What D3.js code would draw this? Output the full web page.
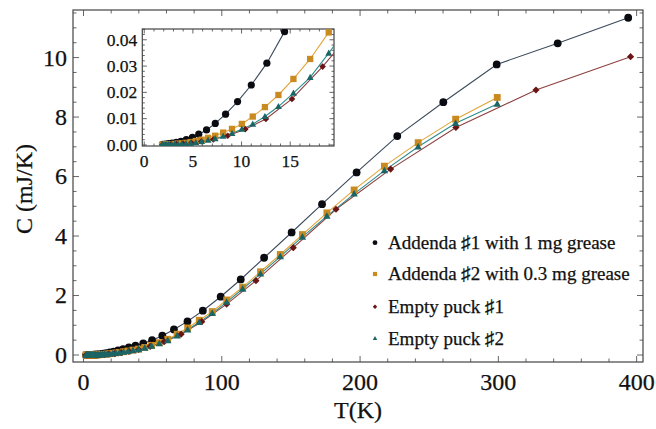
<!DOCTYPE html>
<html>
<head>
<meta charset="utf-8">
<script src="https://cdn.jsdelivr.net/npm/d3@7"></script>
<style>
  html, body { margin: 0; padding: 0; background: #fff; }
  svg { display: block; }
  text { font-family: "Liberation Serif", "Times New Roman", serif; fill: #111; stroke: #111; stroke-width: 0.25px; }
</style>
</head>
<body>
<svg id="chart" width="656" height="429"></svg>
<script>
// ---- data ----
const seriesNames = [
  "Addenda \u266F1 with 1 mg grease",
  "Addenda \u266F2 with 0.3 mg grease",
  "Empty puck \u266F1",
  "Empty puck \u266F2"
];

const addenda1T = [1.9, 2.18, 2.5, 2.87, 3.29, 3.77, 4.32, 4.95, 5.6, 6.4, 7.3, 8.36, 9.59, 11.0, 12.6, 14.42,
  16.5, 19.0, 21.8, 25.0, 28.6, 32.8, 37.6, 43.2, 49.6, 57.0, 65.4, 75.2, 86.3, 99.2, 113.7, 130.6, 150.5,
  172.5, 197.5, 226.9, 260.2, 298.8, 342.9, 393.9];
const addenda1C = [0.0002, 0.0003, 0.0005, 0.0007, 0.0010, 0.0014, 0.0020, 0.0029, 0.0041, 0.0057, 0.0082,
  0.0117, 0.0165, 0.0228, 0.0311, 0.0431, 0.060, 0.084, 0.115, 0.155, 0.20, 0.255, 0.315, 0.39, 0.50, 0.65,
  0.86, 1.13, 1.49, 1.96, 2.54, 3.27, 4.12, 5.07, 6.14, 7.36, 8.50, 9.77, 10.48, 11.34];

const addenda2T = [1.83, 2.04, 2.27, 2.52, 2.80, 3.12, 3.47, 3.86, 4.29, 4.77, 5.30, 5.90, 6.56, 7.29, 8.11,
  9.02, 10.03, 11.15, 12.40, 13.79, 15.33, 17.05, 18.96, 21.1, 23.4, 26.0, 29.0, 32.2, 35.8, 39.8, 44.3,
  49.2, 54.8, 60.9, 67.7, 75.3, 83.7, 93.1, 103.5, 115.1, 128.0, 142.3, 158.3, 176.0, 195.7, 217.6, 242.0,
  269.1, 299.2];
const addenda2C = [0.0001, 0.0001, 0.0002, 0.0002, 0.0003, 0.0004, 0.0005, 0.0006, 0.0008, 0.0011, 0.0015,
  0.0020, 0.0027, 0.0035, 0.0047, 0.0061, 0.0080, 0.0108, 0.0144, 0.0190, 0.0251, 0.0327, 0.0428, 0.055,
  0.070, 0.088, 0.11, 0.135, 0.165, 0.20, 0.255, 0.325, 0.415, 0.53, 0.70, 0.91, 1.17, 1.46, 1.85, 2.28,
  2.80, 3.38, 4.05, 4.78, 5.55, 6.35, 7.14, 7.93, 8.66];

const puck1T = [1.87, 2.26, 2.73, 3.31, 4.0, 4.84, 5.86, 7.09, 8.58, 10.38, 12.5, 15.18, 18.33, 22.5, 27.2,
  32.9, 39.8, 48.2, 58.3, 70.6, 85.5, 103.5, 124.7, 151.7, 182.6, 222.1, 269.3, 327.2, 395.6];
const puck1C = [0.0001, 0.0001, 0.0002, 0.0003, 0.0005, 0.0008, 0.0013, 0.0021, 0.0035, 0.0060, 0.0099,
  0.0175, 0.0298, 0.048, 0.078, 0.12, 0.185, 0.29, 0.45, 0.70, 1.12, 1.71, 2.50, 3.61, 4.90, 6.25, 7.65,
  8.91, 10.03];

const puck2T = addenda2T;
const puck2C = [0.0001, 0.0001, 0.0001, 0.0002, 0.0002, 0.0003, 0.0003, 0.0004, 0.0005, 0.0007, 0.0009,
  0.0013, 0.0018, 0.0024, 0.0033, 0.0044, 0.0060, 0.0079, 0.0108, 0.0146, 0.0197, 0.0257, 0.0349, 0.046,
  0.060, 0.077, 0.098, 0.122, 0.152, 0.188, 0.235, 0.30, 0.385, 0.49, 0.65, 0.85, 1.10, 1.40, 1.78, 2.22,
  2.73, 3.31, 3.97, 4.67, 5.42, 6.20, 7.00, 7.79, 8.44];

const xTicksMain = [0, 100, 200, 300, 400];
const yTicksMain = [0, 2, 4, 6, 8, 10];
const xTicksInset = [0, 5, 10, 15];
const yTicksInset = [0, 0.01, 0.02, 0.03, 0.04];

// ---- styles ----
const styles = [
  { line: "#3b4a5c", fill: "#0b0b12", shape: "circle" },
  { line: "#e2a43a", fill: "#c98a1f", shape: "square" },
  { line: "#8e4040", fill: "#6a1414", shape: "diamond" },
  { line: "#2e8c8c", fill: "#1b6565", shape: "triangle" }
];

const series = [
  { T: addenda1T, C: addenda1C },
  { T: addenda2T, C: addenda2C },
  { T: puck1T, C: puck1C },
  { T: puck2T, C: puck2C }
].map((s, i) => ({ name: seriesNames[i], style: styles[i],
  pts: s.T.map((t, j) => ({ t: t, c: s.C[j] })) }));

const svg = d3.select("#chart");

function marker(g, shape, fill, size) {
  if (shape === "circle") {
    return g.append("circle").attr("r", size * 0.6).attr("fill", fill);
  }
  if (shape === "square") {
    const s = size * 1.05;
    return g.append("rect").attr("x", -s / 2).attr("y", -s / 2).attr("width", s).attr("height", s).attr("fill", fill);
  }
  if (shape === "diamond") {
    const s = size * 0.55;
    return g.append("path").attr("d", `M0,${-s}L${s},0L0,${s}L${-s},0Z`).attr("fill", fill);
  }
  const s = size * 0.6;
  return g.append("path").attr("d", `M0,${-s}L${s * 0.95},${s * 0.7}L${-s * 0.95},${s * 0.7}Z`).attr("fill", fill);
}

function drawPanel(opts) {
  const { x, y, xTicks, yTicks, xMinorStep, yMinorStep, fontSize, majorLen, minorLen, id, msize, xFmt, yFmt, labelPadX, labelPadY } = opts;
  const [x0, x1] = x.range();
  const [y0, y1] = y.range(); // y0 bottom, y1 top
  const g = svg.append("g");

  g.append("clipPath").attr("id", id).append("rect")
    .attr("x", x0).attr("y", y1).attr("width", x1 - x0).attr("height", y0 - y1);

  // ticks
  const xd = x.domain(), yd = y.domain();
  const xMinor = d3.range(Math.ceil(xd[0] / xMinorStep) * xMinorStep, xd[1] + 1e-9, xMinorStep);
  const yMinor = d3.range(Math.ceil(yd[0] / yMinorStep) * yMinorStep, yd[1] + 1e-12, yMinorStep);
  const isMajor = (v, arr, step) => arr.some(m => Math.abs(m - v) < step * 1e-3);
  const tg = g.append("g").attr("stroke", "#555").attr("stroke-width", 0.9);
  xMinor.forEach(v => {
    const L = isMajor(v, xTicks, xMinorStep) ? majorLen : minorLen;
    const px = x(v);
    tg.append("line").attr("x1", px).attr("x2", px).attr("y1", y0).attr("y2", y0 - L);
    tg.append("line").attr("x1", px).attr("x2", px).attr("y1", y1).attr("y2", y1 + L);
  });
  yMinor.forEach(v => {
    const L = isMajor(v, yTicks, yMinorStep) ? majorLen : minorLen;
    const py = y(v);
    tg.append("line").attr("y1", py).attr("y2", py).attr("x1", x0).attr("x2", x0 + L);
    tg.append("line").attr("y1", py).attr("y2", py).attr("x1", x1).attr("x2", x1 - L);
  });

  // frame
  g.append("rect").attr("x", x0).attr("y", y1).attr("width", x1 - x0).attr("height", y0 - y1)
    .attr("fill", "none").attr("stroke", "#444").attr("stroke-width", 1.2);

  // tick labels
  g.selectAll(".xl").data(xTicks).enter().append("text")
    .attr("x", d => x(d)).attr("y", y0 + labelPadX).attr("text-anchor", "middle")
    .attr("font-size", fontSize).text(xFmt);
  g.selectAll(".yl").data(yTicks).enter().append("text")
    .attr("x", x0 - labelPadY).attr("y", d => y(d)).attr("dy", "0.33em").attr("text-anchor", "end")
    .attr("font-size", fontSize).text(yFmt);

  // data
  const dg = g.append("g").attr("clip-path", `url(#${id})`);
  const line = d3.line().x(d => x(d.t)).y(d => y(d.c));
  series.forEach(s => {
    dg.append("path").datum(s.pts).attr("d", line).attr("fill", "none")
      .attr("stroke", s.style.line).attr("stroke-width", 1.1);
  });
  series.forEach(s => {
    s.pts.forEach(p => {
      const mg = dg.append("g").attr("transform", `translate(${x(p.t)},${y(p.c)})`);
      marker(mg, s.style.shape, s.style.fill, msize);
    });
  });
}

// main panel
const xMain = d3.scaleLinear().domain([-7.6, 404.6]).range([73, 643]);
const yMain = d3.scaleLinear().domain([-0.235, 11.6]).range([362, 10]);
drawPanel({ x: xMain, y: yMain, xTicks: xTicksMain, yTicks: yTicksMain, xMinorStep: 20, yMinorStep: 0.5,
  fontSize: 24, majorLen: 6, minorLen: 3.5, id: "clipMain", msize: 6.5,
  xFmt: d => d, yFmt: d => d, labelPadX: 28, labelPadY: 6 });

// inset panel
const xIn = d3.scaleLinear().domain([-0.2, 19.5]).range([142.3, 334]);
const yIn = d3.scaleLinear().domain([-0.0004, 0.0441]).range([146, 29]);
svg.append("rect").attr("x", 142.3).attr("y", 29).attr("width", 191.7).attr("height", 117).attr("fill", "#fff");
drawPanel({ x: xIn, y: yIn, xTicks: xTicksInset, yTicks: yTicksInset, xMinorStep: 1, yMinorStep: 0.002,
  fontSize: 17.5, majorLen: 4.5, minorLen: 2.5, id: "clipInset", msize: 6,
  xFmt: d => d, yFmt: d => d3.format(".2f")(d), labelPadX: 21, labelPadY: 5 });

// axis titles
svg.append("text").attr("x", 358).attr("y", 418).attr("text-anchor", "middle")
  .attr("font-size", 24).text("T(K)");
svg.append("text").attr("transform", "translate(32,189) rotate(-90)").attr("text-anchor", "middle")
  .attr("font-size", 24).text("C (mJ/K)");

// legend
const legY = [242.7, 274, 306.7, 338.3];
const lg = svg.append("g");
series.forEach((s, i) => {
  const mg = lg.append("g").attr("transform", `translate(375,${legY[i]})`);
  marker(mg, s.style.shape, s.style.fill, 4);
  lg.append("text").attr("x", 388).attr("y", legY[i]).attr("dy", "0.33em")
    .attr("font-size", 19).text(s.name);
});
</script>
</body>
</html>
